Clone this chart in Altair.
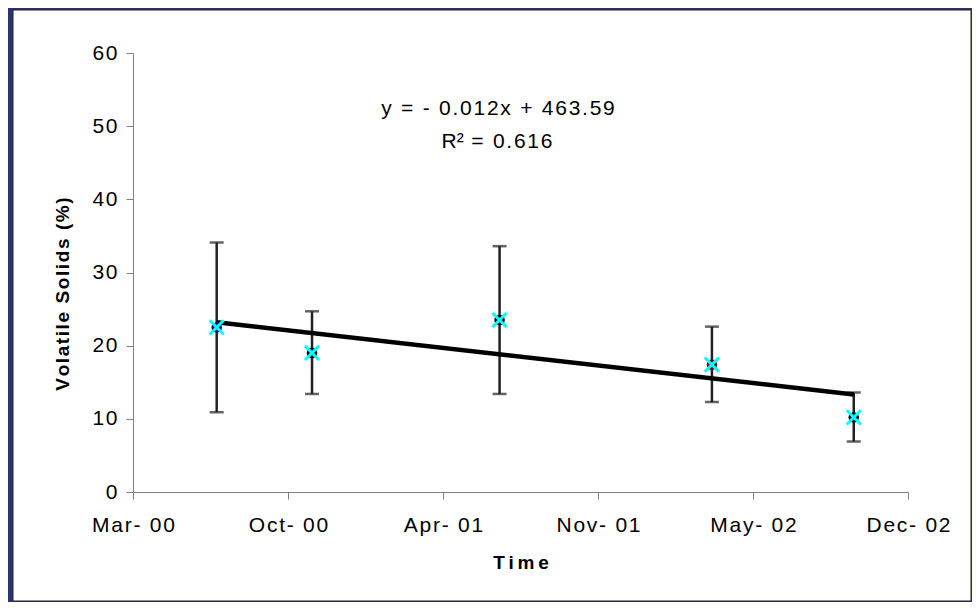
import altair as alt
import pandas as pd

# ---- data ----
dates = ["2000-07-01", "2000-11-01", "2001-07-01", "2002-04-01", "2002-10-01"]
means = [22.5, 19.0, 23.5, 17.4, 10.2]
upper = [34.1, 24.7, 33.6, 22.6, 13.6]
lower = [10.9, 13.4, 13.4, 12.3, 6.9]
marker_colors = ["#000080", "#000000", "#000000", "#800000", "#000000"]

x_ticks = ["2000-03-15", "2000-10-01", "2001-04-19", "2001-11-05", "2002-05-24", "2002-12-10"]
y_ticks = [0, 10, 20, 30, 40, 50, 60]
equation = "y = - 0.012x + 463.59"
r2_text = "R² = 0.616"
x_title = "Time"
y_title = "Volatile Solids (%)"

THIN = "\u2009"
HAIR = "\u200a"


def track(s, sp):
    # loose letter spacing, as in the reference
    return sp.join(list(s))


def ms(d):
    return int(pd.Timestamp(d, tz="UTC").timestamp() * 1000)


tick_ms = [ms(d) for d in x_ticks]

df = pd.DataFrame({
    "date": dates,
    "vs": means,
    "hi": upper,
    "lo": lower,
    "mcol": marker_colors,
})

FONT = "Liberation Sans"
W, H = 775, 439

xscale = alt.Scale(type="utc", domain=[tick_ms[0], tick_ms[-1]])
yscale = alt.Scale(domain=[0, 60])

xaxis = alt.Axis(
    values=tick_ms,
    labelExpr="replace(utcFormat(datum.value, '%b- %y'), regexp('(.)(?=.)', 'g'), '$1" + HAIR + "')",
    title=track(x_title, THIN), titleFont=FONT, titleFontSize=19, titleFontWeight="bold",
    titleY=70, titleBaseline="middle", titleColor="#000",
    labelFont=FONT, labelFontSize=21, labelColor="#000",
    labelPadding=15, tickSize=7, tickColor="#808080", domainColor="#808080",
    grid=False, zindex=1, labelFlush=False, labelOverlap=False,
)
yaxis = alt.Axis(
    values=y_ticks,
    labelExpr="replace(datum.label, regexp('(.)(?=.)', 'g'), '$1" + HAIR + "')",
    title=track(y_title, HAIR), titleFont=FONT, titleColor="#000",
    titleFontSize=19, titleFontWeight="bold", titleX=-71, titleY=H / 2 + 21,
    titleBaseline="middle",
    labelFont=FONT, labelFontSize=21, labelColor="#000", labelPadding=9,
    tickSize=7, tickColor="#808080", domainColor="#808080", grid=False,
    zindex=1,
)

base = alt.Chart(df)

# decorative panel (white box with thin dark border)
panel = alt.Chart(pd.DataFrame({"k": [0]})).mark_rect(
    fill="white", stroke="#222", strokeWidth=1
).encode(
    x=alt.value(-120), x2=alt.value(838), y=alt.value(-43), y2=alt.value(548)
)

rules = base.mark_rule(color="#222", strokeWidth=2.5).encode(
    x=alt.X("date:T", scale=xscale, axis=xaxis),
    y=alt.Y("lo:Q", scale=yscale, axis=yaxis),
    y2="hi:Q",
)
cap_hi = base.mark_tick(color="#222", thickness=2.5, size=14, orient="horizontal").encode(
    x="date:T", y="hi:Q"
)
cap_lo = base.mark_tick(color="#222", thickness=2.5, size=14, orient="horizontal").encode(
    x="date:T", y="lo:Q"
)

trend = base.transform_regression("date", "vs", method="linear").mark_line(
    color="#000", strokeWidth=4.5
).encode(x="date:T", y="vs:Q")

dots = base.mark_point(filled=True, size=110, shape="circle", opacity=1).encode(
    x="date:T", y="vs:Q", color=alt.Color("mcol:N", scale=None)
)
crosses = base.mark_point(
    shape="M-1,-1L1,1M-1,1L1,-1", size=200, filled=False, stroke="#00FFFF",
    strokeWidth=3, opacity=1
).encode(x="date:T", y="vs:Q")

eq_label = track(equation, HAIR)
r2_label = r2_text[:2] + track(r2_text[2:], HAIR)

eq = alt.Chart(pd.DataFrame({"t": [eq_label]})).mark_text(
    font=FONT, fontSize=21, color="#000", align="center", baseline="middle"
).encode(text="t:N", x=alt.value(365), y=alt.value(56))
r2 = alt.Chart(pd.DataFrame({"t": [r2_label]})).mark_text(
    font=FONT, fontSize=21, color="#000", align="center", baseline="middle"
).encode(text="t:N", x=alt.value(364), y=alt.value(89))

chart = alt.layer(panel, rules, cap_hi, cap_lo, trend, dots, crosses, eq, r2).properties(
    width=W, height=H,
    autosize=alt.AutoSizeParams(type="none"),
    padding={"left": 125, "top": 45, "right": 64, "bottom": 110},
    background="#2B3471",
).configure_view(stroke="#808080", strokeWidth=1)

chart.save("out.html", embed_options={"renderer": "svg", "actions": False})
